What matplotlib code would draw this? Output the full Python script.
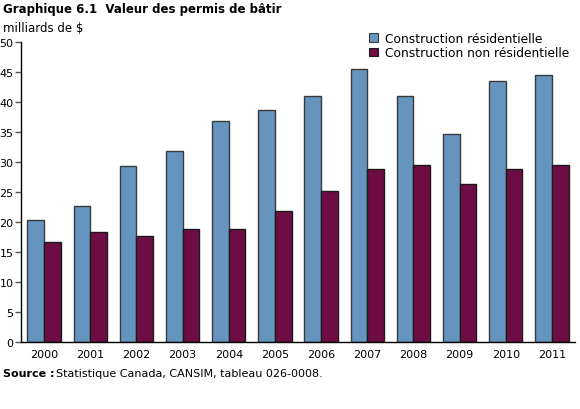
import numpy as np
import matplotlib
matplotlib.use('Agg')
import matplotlib.pyplot as plt
from matplotlib.ticker import MultipleLocator

years = ['2000', '2001', '2002', '2003', '2004', '2005',
         '2006', '2007', '2008', '2009', '2010', '2011']
residential = [20.3, 22.7, 29.4, 31.9, 36.9, 38.7, 41.0, 45.5, 41.0, 34.6, 43.5, 44.5]
non_residential = [16.7, 18.3, 17.7, 18.8, 18.8, 21.9, 25.2, 28.8, 29.5, 26.4, 28.9, 29.5]
series_labels = ['Construction résidentielle', 'Construction non résidentielle']


def plot_chart(save_to_file='out.png'):
    plt.rcParams['font.family'] = ['DejaVu Sans']
    fig = plt.figure(figsize=(5.8, 4.1), dpi=100)
    ax = fig.add_axes([21 / 580, 1 - 343 / 410, 554 / 580, 300 / 410])

    x = np.arange(len(years))
    width = 0.36
    ax.bar(x - width / 2, residential, width, color='#6595BF', edgecolor='#3a3a3a',
           linewidth=1.0, label=series_labels[0], zorder=2)
    ax.bar(x + width / 2, non_residential, width, color='#6E0D43', edgecolor='#1a1a1a',
           linewidth=1.0, label=series_labels[1], zorder=2)

    ax.set_xlim(-0.5, len(years) - 0.5)
    ax.set_ylim(0, 50)
    ax.yaxis.set_major_locator(MultipleLocator(5))
    ax.set_xticks(x)
    ax.set_xticklabels(years)

    for side in ('top', 'right'):
        ax.spines[side].set_visible(False)
    ax.spines['left'].set_linewidth(1.0)
    ax.spines['bottom'].set_linewidth(1.0)
    ax.tick_params(axis='y', length=4, width=1, color='#555555', labelsize=8, pad=1.5)
    ax.tick_params(axis='x', length=0, labelsize=8, pad=5)

    leg = ax.legend(loc='upper left', bbox_to_anchor=(0.62, 1.05), frameon=False,
                    fontsize=8.8, handlelength=0.7, handleheight=0.7, handletextpad=0.6,
                    labelspacing=0.1, borderaxespad=0)
    for h in leg.legend_handles:
        h.set_linewidth(0.8)

    fig.text(3 / 580, 1 - 10 / 410, 'Graphique 6.1  Valeur des permis de bâtir',
             fontsize=8.5, fontweight='bold', va='center', ha='left')
    fig.text(3 / 580, 1 - 28 / 410, 'milliards de $', fontsize=8.5, va='center', ha='left')
    fig.text(3 / 580, 1 - 374 / 410, 'Source :', fontsize=8, fontweight='bold',
             va='center', ha='left')
    fig.text(56 / 580, 1 - 374 / 410, 'Statistique Canada, CANSIM, tableau 026-0008.',
             fontsize=8, va='center', ha='left')

    fig.savefig(save_to_file, dpi=100)


if __name__ == '__main__':
    plot_chart()
